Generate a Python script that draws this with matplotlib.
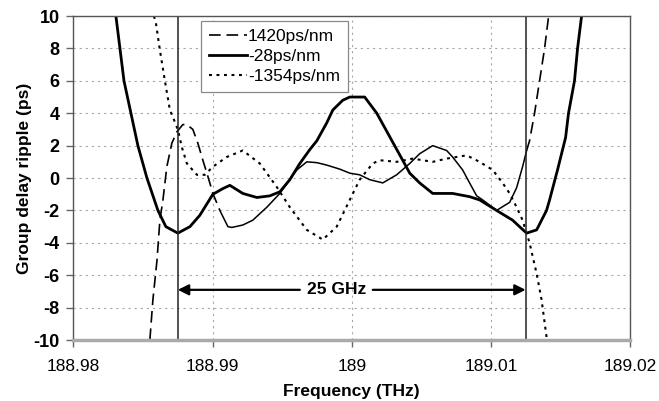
import matplotlib
matplotlib.use("Agg")
import matplotlib.pyplot as plt
from matplotlib.lines import Line2D
import numpy as np

plt.rcParams['font.family'] = ['Liberation Sans', 'DejaVu Sans']

# ---- data (frequency in THz, group delay ripple in ps) ----
freq_pos = [188.98549, 188.98571, 188.98600, 188.98621, 188.98643, 188.98671, 188.98707,
            188.98743, 188.98786, 188.98815, 188.98858, 188.98894, 188.98930, 188.98966,
            188.99002, 188.99052, 188.99110, 188.99138, 188.99217, 188.99289, 188.99390,
            188.99483, 188.99605, 188.99677, 188.99749, 188.99820, 188.99914, 188.99986,
            189.00057, 189.00129, 189.00223, 189.00323, 189.00417, 189.00488, 189.00582,
            189.00682, 189.00725, 189.00797, 189.00847, 189.00898, 189.00941, 189.01041,
            189.01135, 189.01185, 189.01228, 189.01257, 189.01278, 189.01314, 189.01350,
            189.01386, 189.01415]
gd_pos = [-10, -7.5, -5.1, -2.6, -1.35, 0.7, 2.15, 2.85, 3.3, 3.3, 3.0, 2.15, 1.1, 0.1,
          -0.95, -2.0, -3.0, -3.05, -2.9, -2.6, -1.8, -0.95, 0.5, 1.0, 0.95, 0.8, 0.55, 0.3,
          0.2, -0.1, -0.3, 0.2, 0.9, 1.5, 2.0, 1.7, 1.3, 0.5, -0.3, -1.1, -1.35, -2.0,
          -1.5, -0.6, 0.7, 1.7, 2.3, 4.0, 6.0, 8.0, 10.0]

freq_mid = [188.98305, 188.98334, 188.98363, 188.98413, 188.98463, 188.98528, 188.98607,
            188.98664, 188.98750, 188.98837, 188.98908, 188.99002, 188.99074, 188.99124,
            188.99217, 188.99318, 188.99411, 188.99483, 188.99555, 188.99627, 188.99698,
            188.99749, 188.99820, 188.99864, 188.99935, 188.99986, 189.00093, 189.00180,
            189.00273, 189.00366, 189.00417, 189.00488, 189.00582, 189.00725, 189.00847,
            189.00919, 189.01041, 189.01156, 189.01206, 189.01257, 189.01329, 189.01400,
            189.01422, 189.01479, 189.01537, 189.01558, 189.01601, 189.01623, 189.01652]
gd_mid = [10, 8, 6, 4, 2, 0, -2, -3, -3.4, -3.0, -2.3, -1.0, -0.65, -0.45, -0.95, -1.2,
          -1.1, -0.85, -0.1, 0.9, 1.75, 2.3, 3.4, 4.2, 4.8, 5.0, 5.0, 4.0, 2.55, 1.1, 0.3,
          -0.3, -0.95, -0.95, -1.15, -1.35, -2.0, -2.6, -3.0, -3.4, -3.2, -2.0, -1.35, 0.5,
          2.5, 4.0, 6.0, 8.0, 10.0]

freq_neg = [188.98578, 188.98592, 188.98621, 188.98657, 188.98693, 188.98722, 188.98750,
            188.98779, 188.98815, 188.98887, 188.98944, 188.99002, 188.99102, 188.99217,
            188.99339, 188.99461, 188.99555, 188.99677, 188.99792, 188.99892, 188.99986,
            189.00057, 189.00151, 189.00201, 189.00323, 189.00438, 189.00582, 189.00682,
            189.00754, 189.00826, 189.00919, 189.01013, 189.01084, 189.01135, 189.01185,
            189.01228, 189.01278, 189.01329, 189.01364, 189.01400, 189.01408]
gd_neg = [10, 9.6, 7.9, 6.0, 4.2, 3.6, 3.0, 1.9, 0.9, 0.2, 0.2, 0.7, 1.3, 1.7, 0.9, -0.55,
          -1.8, -3.2, -3.8, -3.0, -1.35, -0.1, 0.9, 1.1, 1.0, 1.2, 1.0, 1.2, 1.3, 1.4, 1.0,
          0.5, -0.3, -0.95, -1.8, -2.6, -4.0, -5.9, -7.5, -9.8, -10.5]

labels = ['1420ps/nm', '-28ps/nm', '-1354ps/nm']
band_edges = [188.9875, 189.0125]
band_label = '25 GHz'
xticks = [188.98, 188.99, 189.0, 189.01, 189.02]
xticklabels = ['188.98', '188.99', '189', '189.01', '189.02']
yticks = list(range(-10, 11, 2))

# ---- figure ----
fig = plt.figure(figsize=(6.59, 4.01), dpi=100)
ax = fig.add_axes([0.1115, 0.152, 0.8445, 0.808])
ax.set_xlim(188.98, 189.02)
ax.set_ylim(-10, 10)

ax.set_xticks(xticks)
ax.set_xticklabels(xticklabels, fontsize=12.5)
ax.set_yticks(yticks)
ax.set_yticklabels([str(v) for v in yticks], fontsize=13, fontweight='bold')
ax.tick_params(axis='x', direction='out', length=5, width=1, color='#666666', pad=9)
ax.tick_params(axis='y', direction='out', length=5, width=1, color='#666666', pad=5)
ax.grid(True, linestyle=(0, (2, 3.5)), color='#a8a8a8', linewidth=0.8)
ax.set_axisbelow(True)

for s in ['left', 'top', 'right']:
    ax.spines[s].set_color('#555555')
    ax.spines[s].set_linewidth(1.0)
ax.spines['bottom'].set_color('#aaaaaa')
ax.spines['bottom'].set_linewidth(2.5)

fp = np.array(freq_pos)
gp = np.array(gd_pos)
i1 = int(np.searchsorted(fp, 188.9901))
i2 = int(np.searchsorted(fp, 189.0124))
dash = (0, (7, 3.5))
dot = (0, (1.4, 2.2))
common = dict(color='black', solid_joinstyle='round', solid_capstyle='round')
ax.plot(fp[:i1 + 1], gp[:i1 + 1], lw=1.2, linestyle=dash, **common)
ax.plot(fp[i1:i2 + 1], gp[i1:i2 + 1], lw=1.1, **common)
ax.plot(fp[i2:], gp[i2:], lw=1.2, linestyle=dash, **common)
ax.plot(freq_mid, gd_mid, lw=2.0, **common)
ax.plot(freq_neg, gd_neg, lw=1.5, linestyle=dot, **common)

for xe in band_edges:
    ax.axvline(xe, color='#222222', lw=1.1)

ytxt = -6.9
xtxt = 188.99892
ax.text(xtxt, ytxt, band_label, ha='center', va='center', fontsize=12.5, fontweight='bold')
ax.annotate('', xy=(band_edges[0], ytxt), xytext=(188.99627, ytxt),
            arrowprops=dict(arrowstyle='-|>', color='black', lw=1.6, mutation_scale=16,
                            shrinkA=0, shrinkB=0))
ax.annotate('', xy=(band_edges[1], ytxt), xytext=(189.00151, ytxt),
            arrowprops=dict(arrowstyle='-|>', color='black', lw=1.6, mutation_scale=16,
                            shrinkA=0, shrinkB=0))

handles = [Line2D([], [], color='black', lw=1.2, linestyle=dash),
           Line2D([], [], color='black', lw=2.0),
           Line2D([], [], color='black', lw=1.5, linestyle=dot)]
leg = ax.legend(handles, labels, loc='upper left', bbox_to_anchor=(201 / 659, 1 - 21 / 401),
                bbox_transform=fig.transFigure, fontsize=12.5, frameon=True, fancybox=False,
                edgecolor='#888888', framealpha=1, borderaxespad=0, handlelength=2.2,
                handletextpad=0.05, labelspacing=0.28, borderpad=0.45)
leg.get_frame().set_linewidth(0.9)

ax.set_xlabel('Frequency (THz)', fontsize=12.5, fontweight='bold', labelpad=7)
ax.set_ylabel('Group delay ripple (ps)', fontsize=12.5, fontweight='bold', labelpad=1)

fig.savefig('out.png', dpi=100)
